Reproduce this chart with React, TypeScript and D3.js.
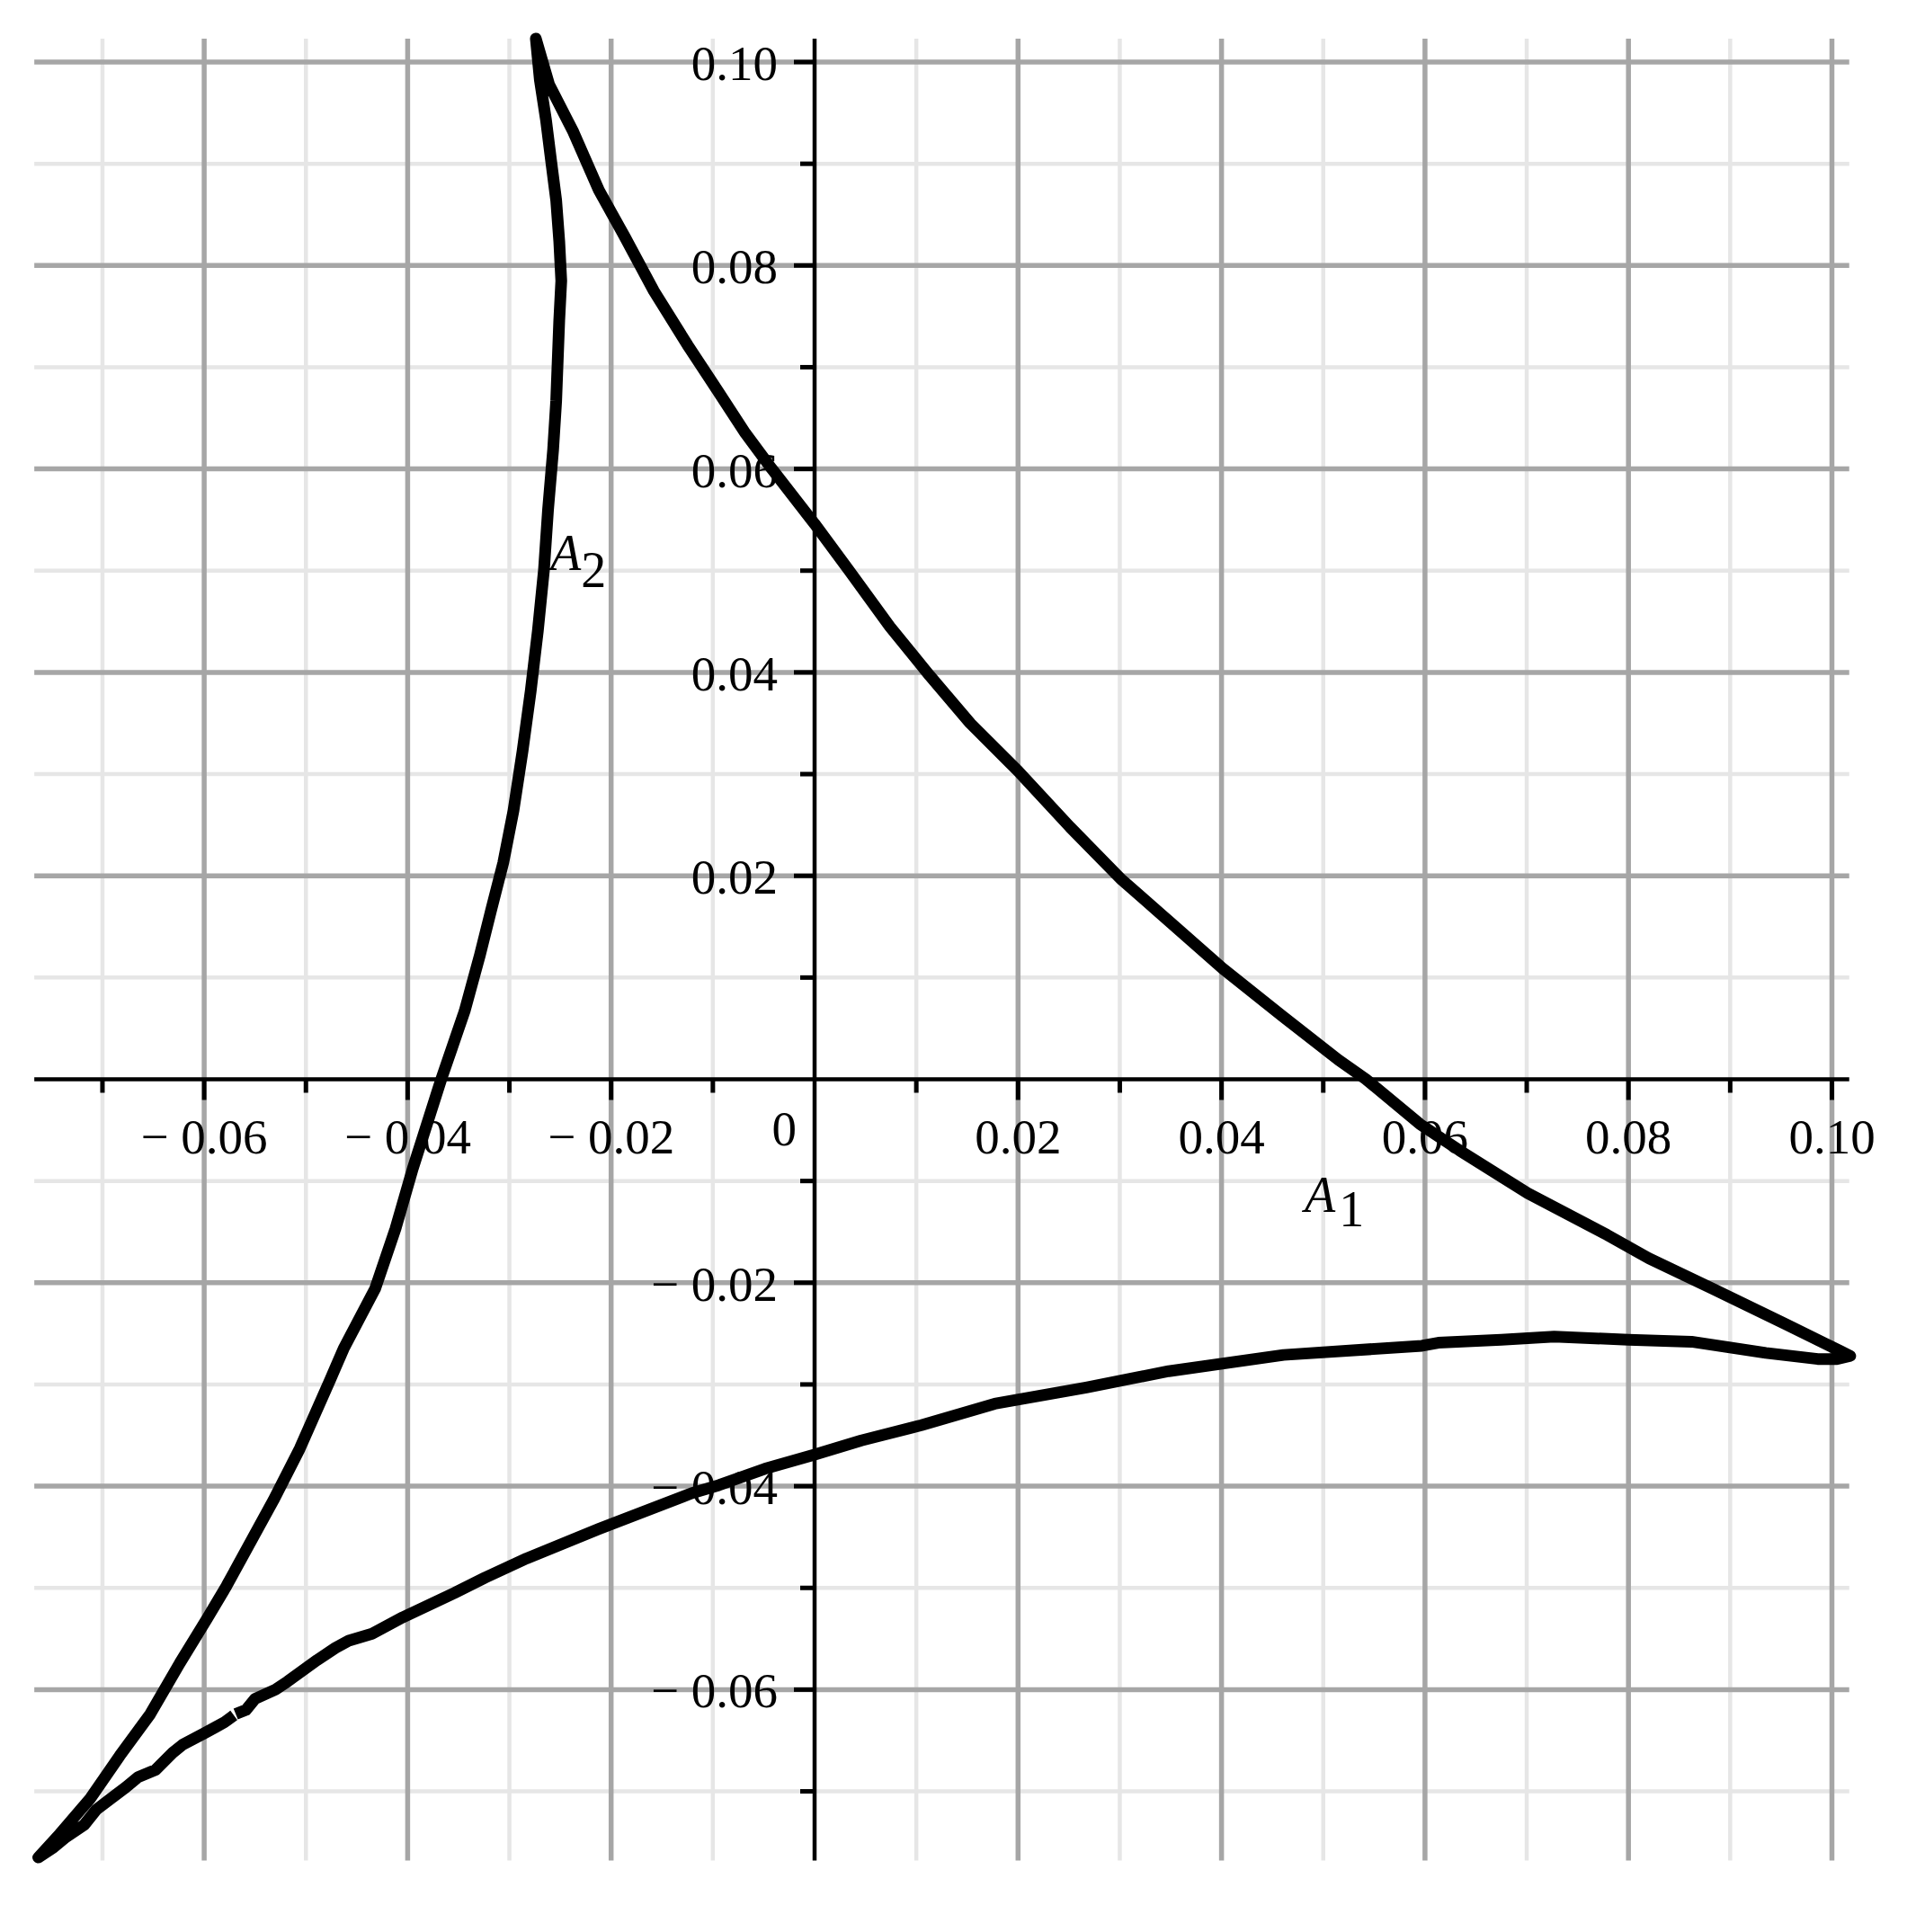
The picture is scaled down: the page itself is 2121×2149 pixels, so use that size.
import * as d3 from 'd3'

// Curve, [A1, A2]
// Left branch: bottom-left corner up to the top cusp
const leftBranch: [number, number][] = [
  [-0.0763, -0.0765], [-0.0742, -0.0742], [-0.0712, -0.0707], [-0.0683, -0.0665],
  [-0.0653, -0.0624], [-0.0624, -0.0574], [-0.0597, -0.053], [-0.0578, -0.0498],
  [-0.0532, -0.0414], [-0.0506, -0.0363], [-0.0476, -0.0295], [-0.0463, -0.0265],
  [-0.0432, -0.0206], [-0.0412, -0.0147], [-0.0395, -0.0088], [-0.0367, 0.0],
  [-0.0344, 0.0067], [-0.0329, 0.0122], [-0.0318, 0.0166], [-0.0306, 0.0213],
  [-0.0296, 0.0264], [-0.0287, 0.0323], [-0.0279, 0.0382], [-0.0272, 0.0441],
  [-0.0266, 0.0501], [-0.0262, 0.056], [-0.0257, 0.0619], [-0.0254, 0.0667],
  [-0.0251, 0.0746], [-0.0249, 0.0785], [-0.0251, 0.0824], [-0.0254, 0.0864],
  [-0.0259, 0.0903], [-0.0264, 0.0943], [-0.027, 0.0982], [-0.0274, 0.1023]
]

// Right branch: top cusp down to the right cusp
const rightBranch: [number, number][] = [
  [-0.0274, 0.1023], [-0.0261, 0.0978], [-0.0237, 0.0931], [-0.0212, 0.0874],
  [-0.0187, 0.0829], [-0.0158, 0.0775], [-0.0125, 0.0722], [-0.0096, 0.0678],
  [-0.0068, 0.0635], [-0.0042, 0.06], [0.0, 0.0546], [0.0034, 0.05],
  [0.0074, 0.0445], [0.0113, 0.0397], [0.0153, 0.035], [0.02, 0.0303],
  [0.0251, 0.0248], [0.0302, 0.0196], [0.0342, 0.0161], [0.0401, 0.0109],
  [0.046, 0.0062], [0.0515, 0.0019], [0.0542, 0.0], [0.0595, -0.0044],
  [0.0634, -0.007], [0.0701, -0.0112], [0.0779, -0.0153], [0.082, -0.0176],
  [0.0883, -0.0206], [0.0955, -0.0241], [0.1008, -0.0267], [0.1018, -0.0272]
]

// Lower branch, part 1: right cusp to the small break
const lowerBranchA: [number, number][] = [
  [0.1018, -0.0272], [0.1005, -0.0275], [0.0986, -0.0275], [0.0935, -0.0269],
  [0.0862, -0.0258], [0.08, -0.0256], [0.0727, -0.0253], [0.0675, -0.0256],
  [0.0613, -0.0259], [0.0597, -0.0262], [0.0461, -0.0271], [0.0348, -0.0287],
  [0.0267, -0.0303], [0.0177, -0.0319], [0.0105, -0.034], [0.0046, -0.0355],
  [0.0, -0.0369], [-0.0049, -0.0383], [-0.0094, -0.0399], [-0.0121, -0.0407],
  [-0.0212, -0.0442], [-0.0283, -0.0471], [-0.0324, -0.049], [-0.0354, -0.0505],
  [-0.0405, -0.0529], [-0.0435, -0.0545], [-0.0458, -0.0552], [-0.0471, -0.0559],
  [-0.0489, -0.0571], [-0.0518, -0.0592], [-0.053, -0.06], [-0.055, -0.0609],
  [-0.0559, -0.062], [-0.0569, -0.0624]
]

// Lower branch, part 2: the break to the bottom-left corner
const lowerBranchB: [number, number][] = [
  [-0.05708, -0.06252], [-0.058, -0.0632], [-0.0589, -0.0637], [-0.06, -0.0643],
  [-0.0621, -0.0654], [-0.0631, -0.0662], [-0.0648, -0.0679], [-0.0665, -0.0686],
  [-0.0677, -0.0696], [-0.0689, -0.0705], [-0.0706, -0.0718], [-0.0718, -0.0733],
  [-0.0736, -0.0745], [-0.0748, -0.0755], [-0.0763, -0.0765]
]

const xMajorTicks = [-0.06, -0.04, -0.02, 0.02, 0.04, 0.06, 0.08, 0.1]
const xMinorTicks = [-0.07, -0.05, -0.03, -0.01, 0.01, 0.03, 0.05, 0.07, 0.09]
const yMajorTicks = [-0.06, -0.04, -0.02, 0.02, 0.04, 0.06, 0.08, 0.1]
const yMinorTicks = [-0.07, -0.05, -0.03, -0.01, 0.01, 0.03, 0.05, 0.07, 0.09]

const xDomain: [number, number] = [-0.0767, 0.1017]
const yDomain: [number, number] = [-0.0768, 0.1023]

const WIDTH = 2121
const HEIGHT = 2149
const FONT = '"Liberation Serif", "Times New Roman", serif'

const fmt = (v: number) => {
  const s = Math.abs(v).toFixed(2)
  return v < 0 ? `\u2212 ${s}` : s
}

export default function App() {
  const pxPerUnit = 11315
  const x = d3.scaleLinear().domain(xDomain)
    .range([906 + xDomain[0] * pxPerUnit, 906 + xDomain[1] * pxPerUnit])
  const y = d3.scaleLinear().domain(yDomain)
    .range([1200.5 - yDomain[0] * pxPerUnit, 1200.5 - yDomain[1] * pxPerUnit])

  const [x0, x1] = x.range()
  const [yBottom, yTop] = y.range()

  // one path, starting and ending at the small break in the lower branch
  const curve = [
    ...lowerBranchB,
    ...leftBranch.slice(1),
    ...rightBranch.slice(1),
    ...lowerBranchA.slice(1)
  ]
  const line = d3.line<[number, number]>()
    .x(d => x(d[0]))
    .y(d => y(d[1]))
    .curve(d3.curveLinear)

  const minorGrid = '#e6e6e6'
  const majorGrid = '#a6a6a6'

  return (
    <div style={{ position: 'absolute', left: 0, top: 0, background: '#fff' }}>
      <svg width={WIDTH} height={HEIGHT} style={{ display: 'block' }}>
        <rect width={WIDTH} height={HEIGHT} fill="#fff" />

        {/* minor grid */}
        {xMinorTicks.map(t => (
          <line key={`gxm${t}`} x1={x(t)} x2={x(t)} y1={yTop} y2={yBottom}
            stroke={minorGrid} strokeWidth={4.5} />
        ))}
        {yMinorTicks.map(t => (
          <line key={`gym${t}`} x1={x0} x2={x1} y1={y(t)} y2={y(t)}
            stroke={minorGrid} strokeWidth={4.5} />
        ))}
        {/* major grid */}
        {xMajorTicks.map(t => (
          <line key={`gxM${t}`} x1={x(t)} x2={x(t)} y1={yTop} y2={yBottom}
            stroke={majorGrid} strokeWidth={5.5} />
        ))}
        {yMajorTicks.map(t => (
          <line key={`gyM${t}`} x1={x0} x2={x1} y1={y(t)} y2={y(t)}
            stroke={majorGrid} strokeWidth={5.5} />
        ))}

        {/* axes through the origin */}
        <line x1={x0} x2={x1} y1={y(0)} y2={y(0)} stroke="#000" strokeWidth={4.5} />
        <line x1={x(0)} x2={x(0)} y1={yTop} y2={yBottom} stroke="#000" strokeWidth={4.5} />

        {/* ticks */}
        {xMajorTicks.map(t => (
          <line key={`txM${t}`} x1={x(t)} x2={x(t)} y1={y(0)} y2={y(0) + 23}
            stroke="#000" strokeWidth={5} />
        ))}
        {xMinorTicks.map(t => (
          <line key={`txm${t}`} x1={x(t)} x2={x(t)} y1={y(0)} y2={y(0) + 15}
            stroke="#000" strokeWidth={5} />
        ))}
        {yMajorTicks.map(t => (
          <line key={`tyM${t}`} x1={x(0) - 23} x2={x(0)} y1={y(t)} y2={y(t)}
            stroke="#000" strokeWidth={5} />
        ))}
        {yMinorTicks.map(t => (
          <line key={`tym${t}`} x1={x(0) - 16} x2={x(0)} y1={y(t)} y2={y(t)}
            stroke="#000" strokeWidth={5} />
        ))}

        {/* tick labels */}
        <g fontFamily={FONT} fontSize={55} fill="#000">
          {xMajorTicks.map(t => (
            <text key={`lx${t}`} x={x(t)} y={y(0) + 82} textAnchor="middle">{fmt(t)}</text>
          ))}
          <text x={x(0) - 20} y={y(0) + 73} textAnchor="end">0</text>
          {yMajorTicks.map(t => (
            <text key={`ly${t}`} x={x(0) - 41} y={y(t) + 20} textAnchor="end">{fmt(t)}</text>
          ))}
        </g>

        {/* curve */}
        <path d={line(curve) ?? ''} fill="none" stroke="#000" strokeWidth={13}
          strokeLinejoin="round" strokeLinecap="butt" />

        {/* axis names */}
        <g fontFamily={FONT} fontSize={56} fill="#000">
          <text x={1451} y={y(0) + 147}>
            <tspan fontStyle="italic">A</tspan>
            <tspan dx={4} dy={16}>1</tspan>
          </text>
          <text x={612} y={634}>
            <tspan fontStyle="italic">A</tspan>
            <tspan dx={0} dy={19}>2</tspan>
          </text>
        </g>
      </svg>
    </div>
  )
}
